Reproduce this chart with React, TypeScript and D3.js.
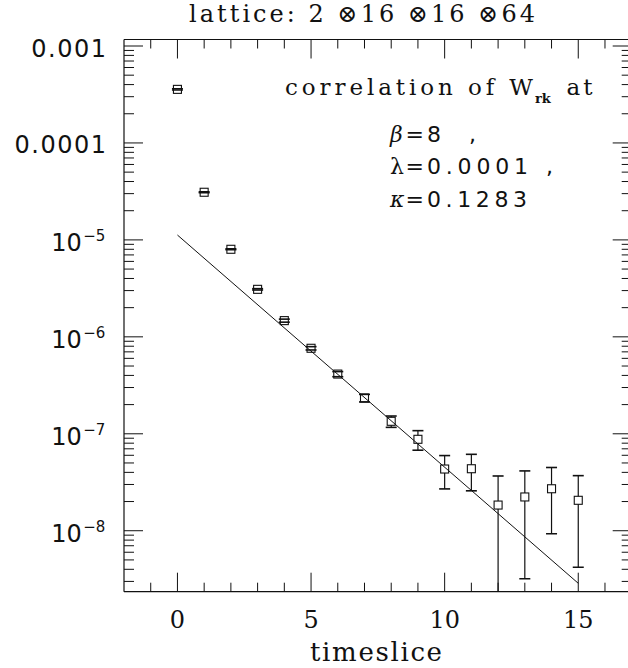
import React from "react";
import * as d3 from "d3";

const timeslices = [0, 1, 2, 3, 4, 5, 6, 7, 8, 9, 10, 11, 12, 13, 14, 15];
const corrValues = [
  3.57e-4, 3.1e-5, 8.0e-6, 3.09e-6, 1.47e-6, 7.62e-7, 4.13e-7, 2.34e-7,
  1.345e-7, 8.77e-8, 4.33e-8, 4.36e-8, 1.84e-8, 2.23e-8, 2.71e-8, 2.06e-8,
];
const corrErrors = [
  0.05e-4, 0.04e-5, 0.1e-6, 0.05e-6, 0.053e-6, 0.03e-6, 0.25e-7, 0.21e-7,
  0.18e-7, 0.2e-7, 1.63e-8, 1.78e-8, 1.83e-8, 1.91e-8, 1.78e-8, 1.64e-8,
];
const fitT = [0, 15];
const fitValues = [1.122e-5, 2.87e-9];
const xTickLabels = [0, 5, 10, 15];
const yDecimalLabels: Record<number, string> = { [-3]: "0.001", [-4]: "0.0001" };
const yExpLabels = [-5, -6, -7, -8];

const W = 628;
const H = 668;
const left = 124;
const right = 631.7;
const top = 39.5;
const bottom = 591.7;

const serif = "'DejaVu Serif', serif";
const sans = "'DejaVu Sans', sans-serif";
const ink = "#111";

export default function App() {
  const x = d3.scaleLinear().domain([-2, 17]).range([left, right]);
  const y = d3.scaleLog().domain([2.35e-9, 1.167e-3]).range([bottom, top]);

  const yTicks = y.ticks();
  const xTicks = d3.range(-1, 17);
  const line = d3
    .line<number>()
    .x((_, i) => x(fitT[i]))
    .y((d) => y(d));

  const isMajorY = (v: number) => {
    const l = Math.log10(v);
    return Math.abs(l - Math.round(l)) < 1e-6;
  };

  const sq = 8;
  const cap = 5.5;

  return (
    <div style={{ position: "fixed", left: 0, top: 0 }}>
      <svg width={W} height={H} style={{ display: "block", background: "#fff" }}>
        <defs>
          <clipPath id="plot">
            <rect x={left} y={top} width={right - left} height={bottom - top} />
          </clipPath>
        </defs>

        {/* title */}
        <text x={189} y={22} fontFamily={serif} fontSize={24} textLength={346} lengthAdjust="spacing" fill={ink}>
          lattice: 2 ⊗16 ⊗16 ⊗64
        </text>

        {/* frame */}
        <g stroke={ink} strokeWidth={1.2} fill="none">
          <line x1={left} y1={top} x2={right} y2={top} />
          <line x1={left} y1={bottom} x2={right} y2={bottom} />
          <line x1={left} y1={top} x2={left} y2={bottom} />
          <line x1={right} y1={top} x2={right} y2={bottom} />
        </g>

        {/* x ticks */}
        <g stroke={ink} strokeWidth={1}>
          {xTicks.map((t) => {
            const len = t % 5 === 0 ? 19 : 9;
            return (
              <g key={"xt" + t}>
                <line x1={x(t)} x2={x(t)} y1={bottom} y2={bottom - len} />
                <line x1={x(t)} x2={x(t)} y1={top} y2={top + len} />
              </g>
            );
          })}
        </g>
        {/* y ticks */}
        <g stroke={ink} strokeWidth={1}>
          {yTicks.map((v, i) => {
            const len = isMajorY(v) ? 19 : 10;
            return (
              <g key={"yt" + i}>
                <line x1={left} x2={left + len} y1={y(v)} y2={y(v)} />
                <line x1={right} x2={right - len} y1={y(v)} y2={y(v)} />
              </g>
            );
          })}
        </g>

        {/* x tick labels */}
        {xTickLabels.map((t) => (
          <text key={"xl" + t} x={x(t)} y={628} textAnchor="middle" fontFamily={serif} fontSize={24} fill={ink}>
            {t}
          </text>
        ))}
        <text x={310} y={661} fontFamily={serif} fontSize={26} textLength={132} lengthAdjust="spacing" fill={ink}>
          timeslice
        </text>

        {/* y tick labels */}
        {[-3, -4].map((e) => (
          <text key={"yd" + e} x={107.5} y={y(Math.pow(10, e)) + 10.5} textAnchor="end" fontFamily={sans} fontSize={24} letterSpacing={1.5} fill={ink}>
            {yDecimalLabels[e]}
          </text>
        ))}
        {yExpLabels.map((e) => (
          <g key={"ye" + e}>
            <text x={81.7} y={y(Math.pow(10, e)) + 11.5} textAnchor="end" fontFamily={sans} fontSize={24} fill={ink}>
              10
            </text>
            <text x={83.3} y={y(Math.pow(10, e)) + 1.5} fontFamily={sans} fontSize={15} fill={ink}>
              {"\u2212" + Math.abs(e)}
            </text>
          </g>
        ))}

        {/* annotation */}
        <text x={285} y={95} fontFamily={serif} fontSize={23} textLength={248} lengthAdjust="spacing" fill={ink}>
          correlation of W
        </text>
        <text x={535} y={103} fontFamily={serif} fontSize={13} fontWeight="bold" fill={ink}>
          rk
        </text>
        <text x={566.5} y={95} fontFamily={serif} fontSize={23} textLength={26} lengthAdjust="spacing" fill={ink}>
          at
        </text>

        <text x={390} y={141.5} fontFamily={serif} fontStyle="italic" fontSize={22} fill={ink}>β</text>
        <text x={405.5} y={141.5} fontFamily={sans} fontSize={22} fill={ink}>=</text>
        <text x={427} y={141.5} fontFamily={sans} fontSize={22} fill={ink}>8</text>
        <text x={469} y={141.5} fontFamily={sans} fontSize={22} fill={ink}>,</text>

        <text x={390} y={173.5} fontFamily={serif} fontSize={22} fill={ink}>λ</text>
        <text x={405.5} y={173.5} fontFamily={sans} fontSize={22} fill={ink}>=</text>
        <text x={427} y={173.5} fontFamily={sans} fontSize={22} textLength={101} lengthAdjust="spacing" fill={ink}>0.0001</text>
        <text x={546} y={173.5} fontFamily={sans} fontSize={22} fill={ink}>,</text>

        <text x={390} y={207} fontFamily={serif} fontStyle="italic" fontSize={22} fill={ink}>κ</text>
        <text x={405.5} y={207} fontFamily={sans} fontSize={22} fill={ink}>=</text>
        <text x={427} y={207} fontFamily={sans} fontSize={22} textLength={100} lengthAdjust="spacing" fill={ink}>0.1283</text>

        {/* data */}
        <g clipPath="url(#plot)" stroke={ink} fill="none">
          <path d={line(fitValues) || ""} strokeWidth={1} />
          {timeslices.map((t, i) => {
            const v = corrValues[i];
            const e = corrErrors[i];
            const cx = x(t);
            const cy = y(v);
            const yHi = y(v + e);
            const lo = v - e;
            const yLo = lo > 0 ? y(lo) : bottom + 20;
            return (
              <g key={"pt" + t}>
                {yHi < cy - sq / 2 && <line x1={cx} x2={cx} y1={cy - sq / 2} y2={yHi} strokeWidth={1.2} />}
                {yLo > cy + sq / 2 && <line x1={cx} x2={cx} y1={cy + sq / 2} y2={yLo} strokeWidth={1.2} />}
                <line x1={cx - cap} x2={cx + cap} y1={yHi} y2={yHi} strokeWidth={1.6} />
                <line x1={cx - cap} x2={cx + cap} y1={yLo} y2={yLo} strokeWidth={1.6} />
                <rect x={cx - sq / 2} y={cy - sq / 2} width={sq} height={sq} strokeWidth={1.1} />
              </g>
            );
          })}
        </g>
      </svg>
    </div>
  );
}
